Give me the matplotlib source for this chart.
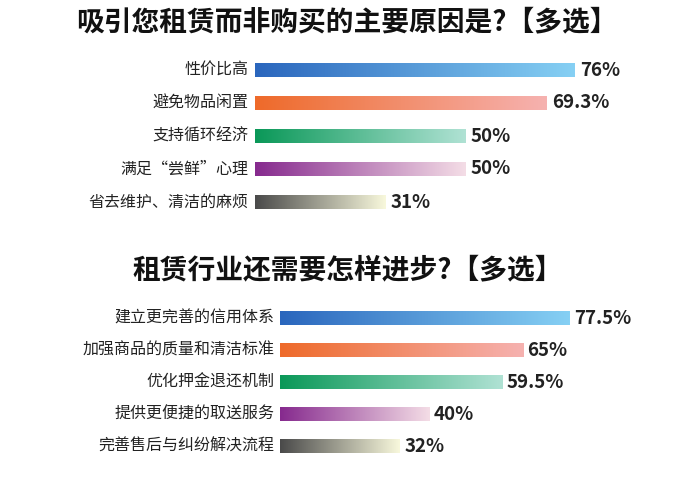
import numpy as np
import matplotlib
matplotlib.use("Agg")
import matplotlib.pyplot as plt
from matplotlib.colors import LinearSegmentedColormap

plt.rcParams['font.family'] = ['Noto Sans CJK SC', 'DejaVu Sans']

title1 = "吸引您租赁而非购买的主要原因是?【多选】"
labels1 = ["性价比高", "避免物品闲置", "支持循环经济", "满足“尝鲜”心理", "省去维护、清洁的麻烦"]
values1 = [76, 69.3, 50, 50, 31]
title2 = "租赁行业还需要怎样进步?【多选】"
labels2 = ["建立更完善的信用体系", "加强商品的质量和清洁标准", "优化押金退还机制", "提供更便捷的取送服务", "完善售后与纠纷解决流程"]
values2 = [77.5, 65, 59.5, 40, 32]

grads = [("#2a66bd", "#86d0f4"), ("#ee6a2a", "#f6b2b0"), ("#0a9858", "#b0e2d4"),
         ("#862a8e", "#f4dde6"), ("#4a4a4a", "#f8f8dc")]

W, H = 678, 478
fig = plt.figure(figsize=(W / 100, H / 100), dpi=100)


def panel(left, top, bottom, width, labels, values):
    ax = fig.add_axes([left / W, 1 - bottom / H, width / W, (bottom - top) / H])
    ax.axis("off")
    grad = np.linspace(0, 1, 256).reshape(1, -1)
    for i, (lab, v) in enumerate(zip(labels, values)):
        cmap = LinearSegmentedColormap.from_list("g", grads[i])
        ax.imshow(grad, cmap=cmap, extent=[0, v, i + 0.21, i - 0.21], aspect="auto")
        ax.text(-1.5, i, lab, ha="right", va="center", fontsize=11.5, color="#222")
        ax.text(v + 1.2, i, f"{v:g}%", ha="left", va="center", fontsize=13.5,
                fontweight="bold", color="#222")
    ax.set_ylim(len(values) - 0.5, -0.5)
    ax.set_xlim(0, 100)


panel(255, 53.5, 218.5, 421, labels1, values1)
panel(280, 302, 462, 374, labels2, values2)

fig.text(347 / W, 1 - 22 / H, title1, ha="center", va="center", fontsize=20, fontweight="bold", color="#111")
fig.text(348 / W, 1 - 270 / H, title2, ha="center", va="center", fontsize=20, fontweight="bold", color="#111")

fig.savefig("out.png", dpi=100, facecolor="white")
